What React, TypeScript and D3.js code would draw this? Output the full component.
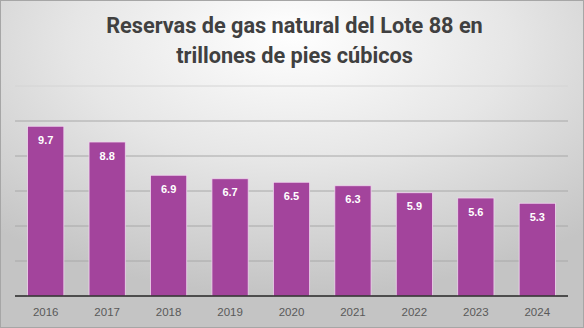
import React from "react";
import * as d3 from "d3";

const years = ["2016", "2017", "2018", "2019", "2020", "2021", "2022", "2023", "2024"];
const reserves = [9.7, 8.8, 6.9, 6.7, 6.5, 6.3, 5.9, 5.6, 5.3];
const yTicks = [0, 2, 4, 6, 8, 10, 12];
const titleLines = ["Reservas de gas natural del Lote 88 en", "trillones de pies cúbicos"];

const W = 584;
const H = 328;
const M = { left: 15, right: 16, top: 86, bottom: 32 };

export default function App() {
  const x = d3
    .scaleBand<string>()
    .domain(years)
    .range([M.left, W - M.right])
    .paddingInner(0.41)
    .paddingOuter(0.205);
  const y = d3.scaleLinear().domain([0, 12]).range([H - M.bottom, M.top]);

  return (
    <svg
      width={W}
      height={H}
      style={{ position: "absolute", left: 0, top: 0, display: "block" }}
      fontFamily="'Liberation Sans', Arial, sans-serif"
    >
      <defs>
        <radialGradient id="bg" cx="0.5" cy="0.15" r="0.75" fx="0.5" fy="0.1">
          <stop offset="0" stopColor="#ffffff" />
          <stop offset="0.5" stopColor="#e6e6e6" />
          <stop offset="1" stopColor="#c4c4c4" />
        </radialGradient>
      </defs>
      <rect x={0.5} y={0.5} width={W - 1} height={H - 1} fill="url(#bg)" stroke="#a6a6a6" />
      <g fontFamily="Roboto, 'Open Sans', sans-serif" fontWeight={700} fontSize={21.7} fill="#404040" textAnchor="middle">
        {titleLines.map((t, i) => (
          <text key={i} x={294.5} y={33 + i * 29.7}>
            {t}
          </text>
        ))}
      </g>
      <g>
        {yTicks.slice(1).map((t) => (
          <line
            key={t}
            x1={M.left}
            x2={W - M.right}
            y1={y(t)}
            y2={y(t)}
            stroke={t === 12 ? "#d4d4d4" : "#a8a8a8"}
            strokeWidth={1}
          />
        ))}
      </g>
      <g>
        {years.map((yr, i) => (
          <rect
            key={yr}
            x={x(yr)}
            y={y(reserves[i])}
            width={x.bandwidth()}
            height={y(0) - y(reserves[i])}
            fill="#a3449c"
            stroke="#f0d6ee"
            strokeWidth={0.8}
          />
        ))}
      </g>
      <line x1={M.left} x2={W - M.right} y1={y(0)} y2={y(0)} stroke="#262626" strokeWidth={1.5} />
      <g fontSize={11} fontWeight={700} fill="#ffffff" textAnchor="middle">
        {years.map((yr, i) => (
          <text key={yr} x={(x(yr) as number) + x.bandwidth() / 2} y={y(reserves[i]) + 17.5}>
            {reserves[i].toFixed(1)}
          </text>
        ))}
      </g>
      <g fontSize={11.5} fill="#595959" textAnchor="middle">
        {years.map((yr) => (
          <text key={yr} x={(x(yr) as number) + x.bandwidth() / 2} y={y(0) + 20}>
            {yr}
          </text>
        ))}
      </g>
    </svg>
  );
}
